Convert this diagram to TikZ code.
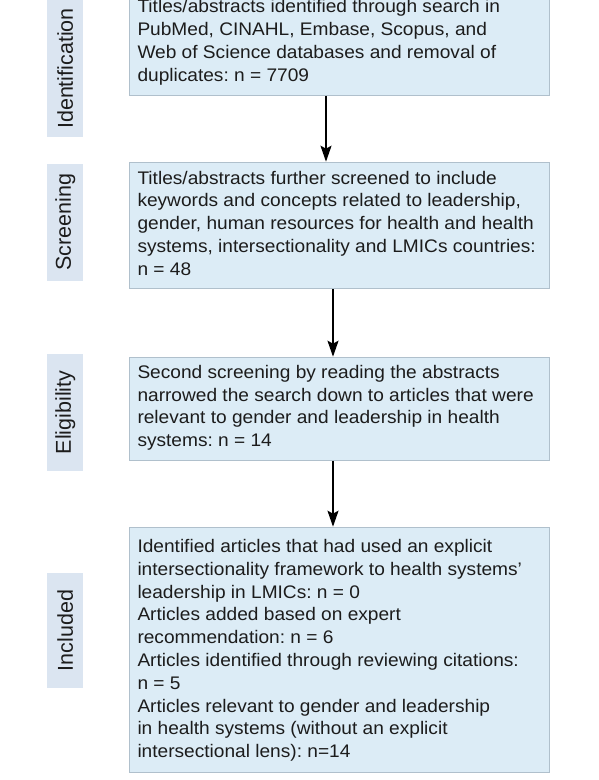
\documentclass[tikz,border=0pt]{standalone}
\usepackage{fontspec}
\setmainfont{Liberation Sans}[FakeStretch=1.05]
\newfontfamily\sidefont{Liberation Sans}
\usetikzlibrary{arrows.meta}
\definecolor{boxfill}{RGB}{220,236,246}
\definecolor{boxline}{RGB}{176,192,204}
\definecolor{sidefill}{RGB}{219,229,241}
\definecolor{txtcol}{RGB}{28,28,28}
\tikzset{
  box/.style={draw=boxline, line width=0.8bp, fill=boxfill, inner sep=0pt, anchor=north west},
  sidebox/.style={fill=sidefill, rotate=90, inner sep=0pt, minimum height=36bp, text=txtcol,
    font=\sidefont\fontsize{21.5bp}{24bp}\selectfont},
  txt/.style={anchor=base west, inner sep=0pt, text=txtcol},
  arr/.style={line width=1.8bp, -{Stealth[length=16bp,width=11bp,inset=3bp]}}
}
\newcommand{\boxtext}[1]{\parbox[t]{412bp}{\fontsize{18.2bp}{22.8bp}\selectfont\frenchspacing\raggedright #1}}
\begin{document}
\begin{tikzpicture}[x=1bp,y=-1bp]
\useasboundingbox (0,0) rectangle (599,780);
% side labels
\node[sidebox, minimum width=137bp] (sid) at (65.3,68.5) {Identification};
\node[sidebox, minimum width=116.7bp] (sscr) at (65.3,222.3) {Screening};
\node[sidebox, minimum width=116.7bp] (selig) at (65.3,412.3) {Eligibility};
\node[sidebox, minimum width=115.6bp] (sinc) at (65.3,630.5) {Included};
% boxes
\node[box, minimum width=420bp, minimum height=105bp] (b1) at (129.3,-10) {};
\node[box, minimum width=420bp, minimum height=126.6bp] (b2) at (129.3,161.7) {};
\node[box, minimum width=420bp, minimum height=103.3bp] (b3) at (129.3,356.7) {};
\node[box, minimum width=420bp, minimum height=245bp] (b4) at (129.3,526.7) {};
% texts
\node[txt] (t1) at (137.3,12.7) {\boxtext{Titles/abstracts identified through search in\\
PubMed, CINAHL, Embase, Scopus, and\\
Web of Science databases and removal of\\
duplicates: n = 7709}};
\node[txt] (t2) at (137.3,184) {\boxtext{Titles/abstracts further screened to include\\
keywords and concepts related to leadership,\\
gender, human resources for health and health\\
systems, intersectionality and LMICs countries:\\
n = 48}};
\node[txt] (t3) at (137.3,378.3) {\boxtext{Second screening by reading the abstracts\\
narrowed the search down to articles that were\\
relevant to gender and leadership in health\\
systems: n = 14}};
\node[txt] (t4) at (137.3,552.5) {\boxtext{Identified articles that had used an explicit\\
intersectionality framework to health systems’\\
leadership in LMICs: n = 0\\
Articles added based on expert\\
recommendation: n = 6\\
Articles identified through reviewing citations:\\
n = 5\\
Articles relevant to gender and leadership\\
in health systems (without an explicit\\
intersectional lens): n=14}};
% arrows
\coordinate (ax1) at (326,0);
\coordinate (ax2) at (333,0);
\draw[arr] (b1.south -| ax1) -- (b2.north -| ax1);
\draw[arr] (b2.south -| ax2) -- (b3.north -| ax2);
\draw[arr] (b3.south -| ax2) -- (b4.north -| ax2);
\end{tikzpicture}
\end{document}
